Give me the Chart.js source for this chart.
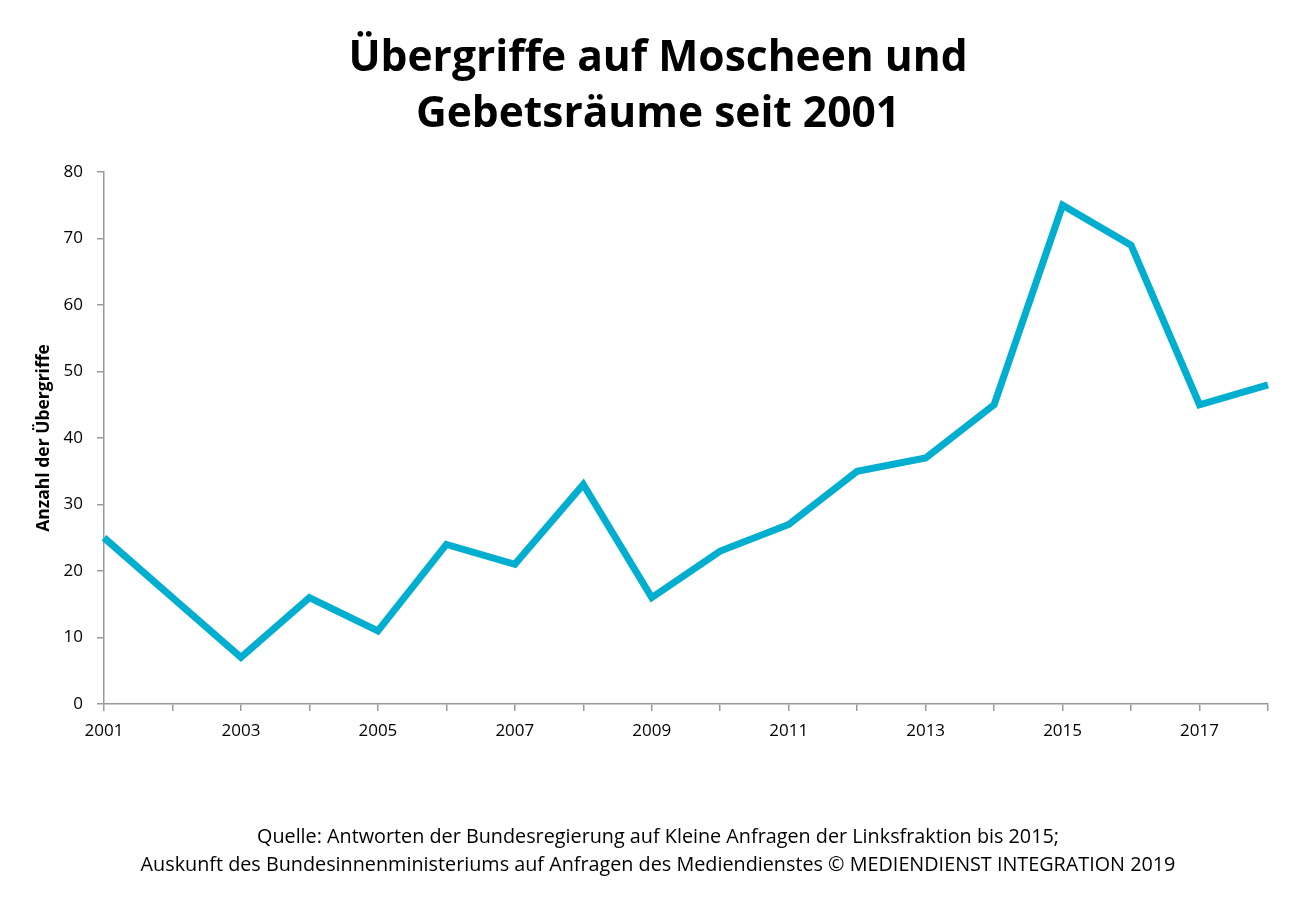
<!DOCTYPE html>
<html lang="de">
<head>
    <meta charset="UTF-8">
    <title>Übergriffe auf Moscheen und Gebetsräume seit 2001</title>
    <script src="https://cdn.jsdelivr.net/npm/chart.js"></script>
    <style>
        body { margin: 0; background: #fff; font-family: "Open Sans", sans-serif; }
        #wrap { position: relative; width: 1316px; height: 905px; }
        #title {
            position: absolute; left: 0; top: 27px; width: 1316px;
            text-align: center; font-weight: bold; font-size: 42.5px; line-height: 56px; color: #000;
        }
        #source {
            position: absolute; left: 0; top: 822px; width: 1316px;
            text-align: center; font-size: 19.8px; line-height: 28px; color: #000;
        }
        canvas { position: absolute; left: 0; top: 0; }
    </style>
</head>
<body>
<div id="wrap">
    <canvas id="chart" width="1316" height="905"></canvas>
    <div id="title">Übergriffe auf Moscheen und<br>Gebetsräume seit 2001</div>
    <div id="source">Quelle: Antworten der Bundesregierung auf Kleine Anfragen der Linksfraktion bis 2015;<br>Auskunft des Bundesinnenministeriums auf Anfragen des Mediendienstes © MEDIENDIENST INTEGRATION 2019</div>
</div>

<script>
    // Jahre und Anzahl der Übergriffe
    const years = ['2001', '2002', '2003', '2004', '2005', '2006', '2007', '2008', '2009',
                   '2010', '2011', '2012', '2013', '2014', '2015', '2016', '2017', '2018'];
    const attacks = [25, 16, 7, 16, 11, 24, 21, 33, 16, 23, 27, 35, 37, 45, 75, 69, 45, 48];
    const yTicks = [0, 10, 20, 30, 40, 50, 60, 70, 80];

    const axisGrey = '#9a9a9a';
    const tickFont = { family: 'Open Sans', size: 17 };

    new Chart(document.getElementById('chart'), {
        type: 'line',
        data: {
            labels: years,
            datasets: [{
                data: attacks,
                borderColor: '#00aed0',
                borderWidth: 7,
                pointRadius: 0,
                tension: 0,
                fill: false
            }]
        },
        options: {
            responsive: false,
            animation: false,
            layout: { padding: { left: 0, right: 48, top: 172, bottom: 161 } },
            plugins: { legend: { display: false }, tooltip: { enabled: false } },
            scales: {
                x: {
                    offset: false,
                    grid: { drawOnChartArea: false, drawTicks: true, tickLength: 7, color: axisGrey, lineWidth: 1.5 },
                    border: { color: axisGrey, width: 1.5 },
                    ticks: {
                        autoSkip: false, maxRotation: 0, padding: 10, color: '#000', font: tickFont,
                        callback: function (v, i) { return i % 2 === 0 ? years[i] : ''; }
                    },
                    afterFit: function (s) { s.height = 40; }
                },
                y: {
                    min: 0, max: 80,
                    afterBuildTicks: function (s) { s.ticks = yTicks.map(v => ({ value: v })); },
                    grid: { drawOnChartArea: false, drawTicks: true, tickLength: 7, color: axisGrey, lineWidth: 1.5 },
                    border: { color: axisGrey, width: 1.5 },
                    ticks: { padding: 14, color: '#000', font: tickFont },
                    title: {
                        display: true, text: 'Anzahl der Übergriffe', color: '#000',
                        font: { family: 'Open Sans', size: 17.5, weight: 'bold' },
                        padding: { top: 34, bottom: 0 }
                    },
                    afterFit: function (s) { s.width = 104; }
                }
            }
        }
    });
</script>
</body>
</html>
